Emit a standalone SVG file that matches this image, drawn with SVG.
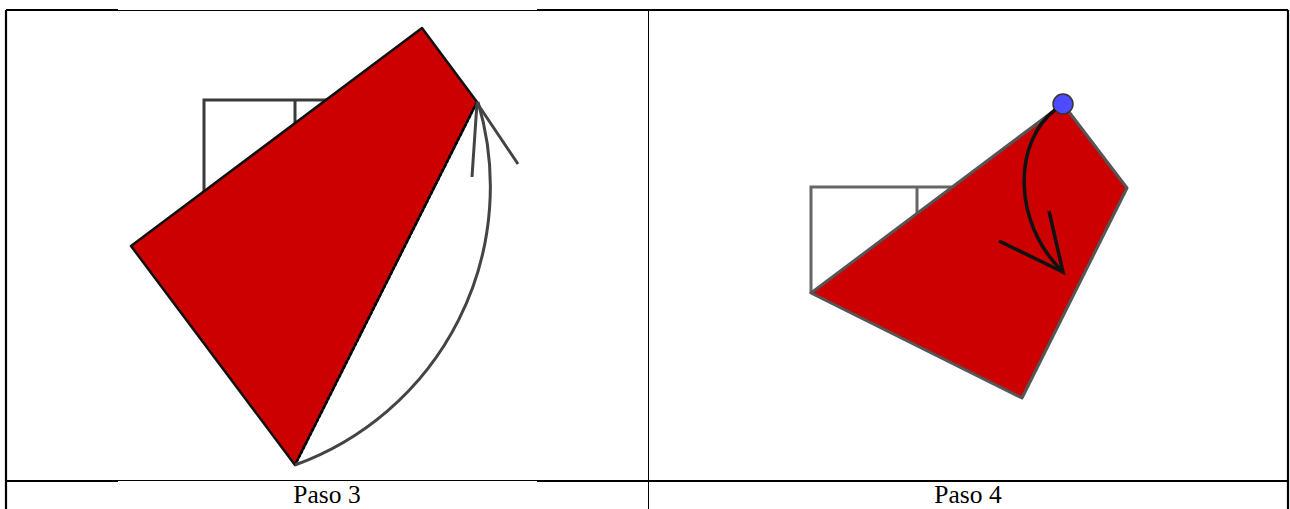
<svg xmlns="http://www.w3.org/2000/svg" width="1290" height="509" viewBox="0 0 1290 509">
<style>
.thick{stroke:#000;stroke-width:2.2;fill:none}
.thin{stroke:#000;stroke-width:1;fill:none}
.sq3{stroke:#3a3a3a;stroke-width:3;fill:none}
.sq4{stroke:#666;stroke-width:3;fill:none}
.lbl{font-family:"Liberation Serif","Times New Roman",serif;font-size:25.5px;fill:#000;text-anchor:middle}
</style>
<rect width="1290" height="509" fill="#fff"/>
<g id="table">
<path class="thick" d="M6,10 H118 M537,10 H1288 M6,10 V509 M1288,10 V509 M6,481 H118 M537,481 H1288"/>
<path class="thin" d="M118,10.5 H537 M118,480.5 H537 M648.5,10 V509"/>
</g>
<g id="paso3">
<path class="sq3" d="M204,192 V100 H340 M295,100 V130"/>
<polygon points="131,246 422,28 477,102 295,465" fill="#cc0000" stroke="#111" stroke-width="2.5" stroke-linejoin="round"/>
<line x1="477" y1="102" x2="295" y2="465" stroke="#000" stroke-width="2.5" stroke-dasharray="3,2"/>
</g>
<g id="paso4">
<path class="sq4" d="M811,293 V187 H960 M917,187 V220"/>
<polygon points="811,293 1063,104 1127,188 1022,398" fill="#cc0000" stroke="#555" stroke-width="3" stroke-linejoin="round"/>
<circle cx="1063" cy="104" r="10" fill="#4d4dff" stroke="#333" stroke-width="1.5"/>
</g>
<g id="connectors">
<path d="M295,465 A296,296 0 0 0 478,102" fill="none" stroke="#444" stroke-width="3"/>
<path d="M472,177 L477,103 L518,164" fill="none" stroke="#444" stroke-width="3" stroke-linejoin="round"/>
<path d="M1055,110 C1015,140 1010,220 1063,272" fill="none" stroke="#111" stroke-width="3.5"/>
<path d="M1049,211 L1063,272 L999,241" fill="none" stroke="#111" stroke-width="3.5" stroke-linejoin="miter"/>
</g>
<g id="labels">
<text class="lbl" x="327" y="503">Paso 3</text>
<text class="lbl" x="968" y="503">Paso 4</text>
</g>
</svg>
